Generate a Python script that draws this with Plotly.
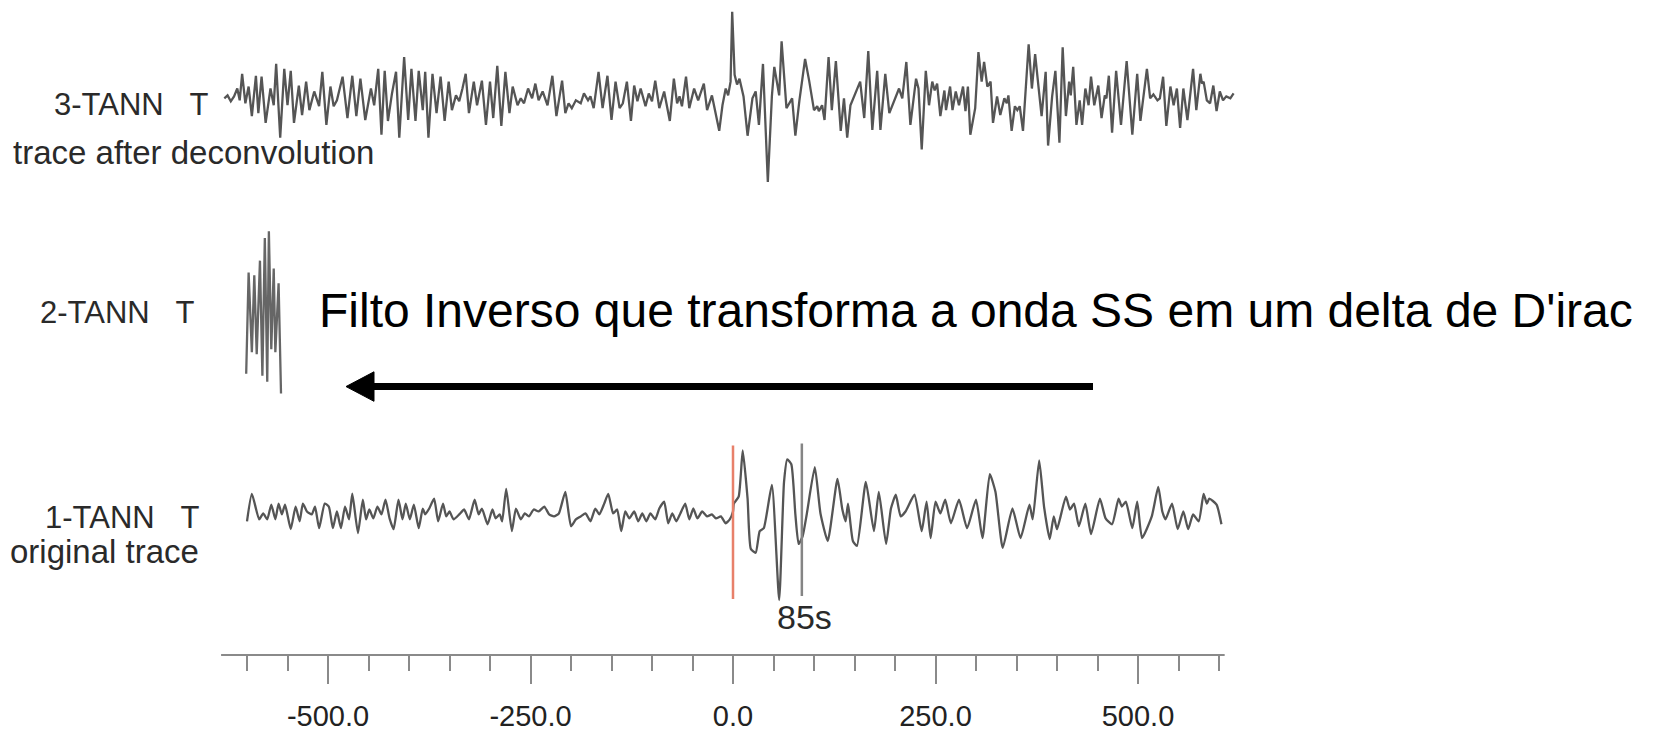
import plotly.graph_objects as go

# ---------------- data ----------------
# Trace 3: "trace after deconvolution"  (time in s, amplitude arbitrary units)
t3 = [-628, -624, -620, -616, -612, -609, -606, -602, -598, -594, -589, -586, -582, -577, -571, -567,
      -564, -559, -554, -550, -546, -542, -536, -532, -527, -523, -517, -511, -507, -502, -497, -493,
      -489, -482, -476, -470, -465, -460, -454, -447, -443, -438, -434, -430, -426, -421, -416, -412,
      -406, -401, -397, -392, -388, -383, -380, -376, -371, -366, -361, -356, -351, -347, -342, -338,
      -334, -330, -326, -320, -316, -310, -305, -300, -296, -291, -286, -281, -276, -272, -266, -262,
      -258, -253, -248, -244, -240, -235, -229, -223, -218,
      -211, -207, -203, -199, -194, -188, -184, -179, -176, -172, -166, -161, -155, -150, -145, -140,
      -136, -131, -126, -122, -118, -114, -108, -104, -100, -96, -91, -85, -78, -73, -69, -66, -63,
      -58, -54, -48, -43, -36, -32, -26, -17, -13, -9, -6, -3, -1, 2, 5, 8, 13, 18, 24, 28, 32, 37,
      43, 48, 51, 57, 60, 66, 73, 77, 82, 89, 94, 100, 104, 106, 110, 113, 118, 122, 127, 133, 137,
      141, 145, 153, 157, 162, 167, 172, 178, 182, 188, 193,
      205, 209, 214, 219, 226, 229, 233, 238, 242, 246, 249, 252, 256, 261, 263, 268, 271, 275, 279,
      284, 287, 290, 293, 299, 303, 307, 310, 314, 318, 321, 326, 330, 335, 338, 340, 344, 348, 351,
      354, 358, 365, 369, 373, 377, 381, 386, 389, 394, 398, 403, 407, 411, 415, 417, 420, 424, 428,
      431, 435, 439, 442, 446, 451, 455, 459, 461, 464, 468, 473, 479, 486, 493, 499, 503, 511, 515,
      519, 524, 527, 531, 535, 540, 544, 548, 552, 556, 561, 568, 572, 577, 579, 581, 585, 589, 593,
      597, 601, 605, 609, 614, 618]
a3 = [0, 3, -3, 2, 10, -2, 25, -5, 12, -18, 23, -15, 22, -25, 10, -7,
      35, -40, 30, -7, 28, -25, 13, -17, 17, -12, 7, -8, 27, -27, 12, -8,
      -2, 22, -20, 23, -18, 20, -22, 10, -7, 30, -37, 28, -23, 5, 27, -40,
      42, -22, 30, -23, 28, -12, 27, -40, 25, -15, 22, -23, 17, -12, 3, -3,
      10, 25, -15, 17, -7, 18, -27, 17, -20, 33, -28, 27, -15, 12, -7, 0,
      -5, 10, 0, 15, -2, 7, -7, 23, -18,
      18, -15, -5, -10, -2, -5, 5, -2, 2, -10, 27, -10, 23, -22, 17, -10,
      -5, 17, -23, 13, -3, 10, -8, 5, -3, 18, -10, 7, -23, 20, -5, 2, -8,
      22, -10, 10, -2, 15, -12, 3, -33, -7, 10, 3, 17, 88, 24, 14, 20, 2, -38, 0, 7, -27, 35,
      -85, 2, 32, 3, 58, -10, 0, -38, -2, 40, 18, -12, -8, -13, -7, -22, 42, -12, 38, -33, 0,
      -40, -7, 10, 17, -20, 48, -32, 28, -32, 25, -15,
      10, 0, 37, -27, 20, 10, -52, 28, -7, 17, 8, 15, -18, 8, -12, 12, -12, 7, -7,
      12, -13, 12, -37, -10, 47, 17, 37, 12, 17, -25, 2, -17, 0, -5, 3, -33, -8, -12,
      -8, -33, 55, 10, 45, 13, -18, 27, -48, 2, 28, -45, 52, -18, 17, 3, 32, -27, -2,
      -27, 10, -7, 22, -7, 13, -20, 3, 0, 23, -35, 28, -27, 38, -37, 25, -23, 30, 0,
      4, -2, 0, 22, -28, 12, -7, 10, -30, 10, -22, 30, -12, 25, 15, 17, -2, -5, 13,
      -13, 7, -2, 2, 0, 5]

# Trace 2: inverse filter (short wavelet)
t2 = [-601, -598, -594, -591, -588, -584, -581, -578, -575, -573, -570, -567, -565, -561, -558]
a2 = [-64, 39, -42, 36, -44, 51, -66, 74, -72, 81, -39, 43, -42, 28, -84]

# Trace 1: "original trace"
t1 = [-600, -594, -585, -580, -575, -570, -565, -561, -557, -553, -546, -540, -535, -531, -526, -520,
      -516, -511, -504, -499, -494, -489, -484, -479, -474, -470, -463, -457, -453, -449, -444, -439,
      -434, -429, -424, -419, -413, -408, -404, -399, -394, -388, -383, -380, -375, -369, -364, -358,
      -354, -350, -345, -338, -332, -326, -319, -314, -310, -303, -297, -293, -288, -285, -280, -273,
      -268, -262, -257, -252, -246, -240, -233, -227, -221, -215, -207, -200, -194, -188, -182, -176,
      -170, -165, -159, -154, -148, -143, -138, -133, -128, -122, -117, -112, -107, -102, -96, -91,
      -85, -80, -75, -70, -65, -59, -54, -49, -44, -38, -32, -26, -21, -15, -9, -4, 0,
      1, 7, 12, 18, 22, 28, 33, 38, 48, 57, 63, 67, 72, 77, 81, 86, 91, 101, 108, 117, 129, 135,
      139, 142, 148, 153, 164, 174, 180, 189, 195, 201, 207, 213, 224, 233, 239, 244, 250, 256,
      262, 269, 279, 289, 300, 308, 317, 324, 333, 345, 355, 366, 370, 378, 384, 391, 396, 400,
      411, 416, 421, 427, 435, 442, 453, 460, 468, 476, 480, 485, 493, 499, 505, 517, 525, 530,
      534, 542, 549, 556, 562, 568, 575, 581, 585, 588, 597, 603]
a1 = [-10, 18, -8, -2, -8, 7, -8, 8, -3, 7, -18, 5, -10, 8, 0, -3,
      5, -17, 8, 5, -17, 0, -17, 5, -8, 18, -22, 12, -8, 2, -7, 5,
      -3, 12, -7, -18, 12, -8, 8, -8, 7, -17, 3, -3, 3, 13, -10, 8,
      -5, 0, -8, -3, 2, -8, 12, -3, 3, -13, 2, -7, -3, -10, 23, -20,
      3, -8, -2, -5, 2, 0, 5, -3, -5, -2, 20, -15, -8, -5, -2, -10,
      3, -3, 8, 18, -2, 2, -20, 0, -7, 0, -10, -2, -10, -2, -8, 3,
      10, -12, -2, -10, -2, 8, -8, 3, -7, 0, -5, -3, -7, -5, -12, -8, 0,
      8, 15, 62, 13, -38, -42, -20, -17, 27, -90, 30, 53, 48, -3, -33, -25, -3, 45, -2, -30, 33, 2,
      -10, 8, -30, -35, 30, -20, 20, -33, 3, 17, -5, 0, 17, -20, 10, -27, 10, -2,
      12, -12, 12, -17, 12, -27, 38, 20, -37, 3, -27, 7, -8, 52, 5, -28, -5, -18,
      15, 2, 8, -15, 8, -23, 13, -7, -13, 13, 5, 10, -17, 10, -27, -5, 25, 0,
      -8, 8, -18, 0, -18, -3, -10, 18, 8, 13, 7, -13]

marker_times = [0, 85]          # red onset line, grey 85 s line
tick_vals = [-500, -250, 0, 250, 500]
tick_text = ["-500.0", "-250.0", "0.0", "250.0", "500.0"]
minor_vals = [-600, -550, -450, -400, -350, -300, -200, -150, -100, -50,
              50, 100, 150, 200, 300, 350, 400, 450, 550, 600]

# ---------------- layout helpers ----------------
W, H = 1653, 732
def px(x):
    return x / W
def py(y):
    return 1 - y / H

FONT = "Liberation Sans"
TRACE_COL = "#555555"

fig = go.Figure()
fig.add_trace(go.Scatter(x=t3, y=a3, mode="lines", xaxis="x", yaxis="y3",
                         line=dict(color=TRACE_COL, width=2.3), hoverinfo="skip"))
fig.add_trace(go.Scatter(x=t2, y=a2, mode="lines", xaxis="x", yaxis="y2",
                         line=dict(color="#666666", width=2.3), hoverinfo="skip"))
fig.add_trace(go.Scatter(x=t1, y=a1, mode="lines", xaxis="x", yaxis="y",
                         line=dict(color=TRACE_COL, width=2.3, shape="spline", smoothing=0.5),
                         hoverinfo="skip"))

x0_px, scale = 733.0, 0.81   # pixel of t=0, pixels per second
fig.update_layout(
    width=W, height=H, margin=dict(l=0, r=0, t=0, b=0),
    paper_bgcolor="white", plot_bgcolor="white", showlegend=False,
    xaxis=dict(domain=[0, 1], range=[-x0_px / scale, (W - x0_px) / scale],
               anchor="free", position=py(666), showline=False, showgrid=False,
               zeroline=False, tickmode="array", tickvals=tick_vals, ticktext=tick_text,
               ticks="outside", ticklen=28, tickwidth=1.5, tickcolor="#8a8a8a",
               ticklabelstandoff=7,
               tickfont=dict(family=FONT, size=29, color="#222222"),
               minor=dict(tickmode="array", tickvals=minor_vals, ticks="outside",
                          ticklen=15, tickwidth=1.5, tickcolor="#8a8a8a", showgrid=False)),
    yaxis=dict(domain=[py(620), py(420)], range=[-100, 100], visible=False),
    yaxis2=dict(domain=[py(416), py(216)], range=[-100, 100], visible=False),
    yaxis3=dict(domain=[py(200), py(0)], range=[-100, 100], visible=False),
)

shapes = [
    # axis line
    dict(type="line", xref="x", yref="paper", x0=-632, x1=607, y0=py(666), y1=py(666),
         line=dict(color="#8a8a8a", width=2)),
    # red onset line and grey 85 s line on trace 1
    dict(type="line", xref="x", yref="y", x0=marker_times[0], x1=marker_times[0], y0=-89, y1=67,
         line=dict(color="#e8806a", width=2.5)),
    dict(type="line", xref="x", yref="y", x0=marker_times[1], x1=marker_times[1], y0=-86, y1=69,
         line=dict(color="#858585", width=2.5)),
    # arrow body
    dict(type="line", xref="paper", yref="paper", x0=px(370), x1=px(1093), y0=py(393), y1=py(393),
         line=dict(color="black", width=7)),
    # arrow head
    dict(type="path", xref="paper", yref="paper",
         path=f"M {px(346)},{py(393)} L {px(374)},{py(378)} L {px(374)},{py(408)} Z",
         fillcolor="black", line=dict(color="black", width=1)),
]
fig.update_layout(shapes=shapes)

LAB = "#2a2a2a"
nb = "\u00a0"
annotations = [
    dict(text="3-TANN" + nb * 3 + "T", x=px(210), y=py(106), xanchor="right", yanchor="middle",
         font=dict(family=FONT, size=31, color=LAB)),
    dict(text="trace after deconvolution", x=px(11), y=py(155), xanchor="left", yanchor="middle",
         font=dict(family=FONT, size=33, color=LAB)),
    dict(text="2-TANN" + nb * 3 + "T", x=px(196), y=py(318), xanchor="right", yanchor="middle",
         font=dict(family=FONT, size=31, color=LAB)),
    dict(text="1-TANN" + nb * 3 + "T", x=px(201), y=py(526), xanchor="right", yanchor="middle",
         font=dict(family=FONT, size=31, color=LAB)),
    dict(text="original trace", x=px(201), y=py(561), xanchor="right", yanchor="middle",
         font=dict(family=FONT, size=33, color=LAB)),
    dict(text="Filto Inverso que transforma a onda SS em um delta de D'irac",
         x=px(317), y=py(316), xanchor="left", yanchor="middle",
         font=dict(family=FONT, size=48, color="black")),
    dict(text="85s", xref="x", x=88, y=py(627), xanchor="center", yanchor="middle",
         font=dict(family=FONT, size=34, color=LAB)),
]
for a in annotations:
    a.setdefault("xref", "paper")
    a["yref"] = "paper"
    a["showarrow"] = False
fig.update_layout(annotations=annotations)

fig.write_html("out.html")
